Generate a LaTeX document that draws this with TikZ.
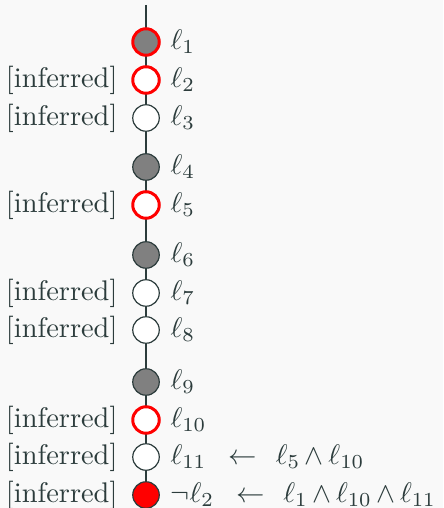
\documentclass[tikz,border=0pt]{standalone}
\definecolor{ink}{RGB}{44,60,60}
\definecolor{bg}{RGB}{249,249,249}
\definecolor{dot}{RGB}{128,128,128}
\definecolor{hot}{RGB}{255,0,0}
\newcommand{\implby}{\kern4.95pt\leftarrow\kern3.9pt}
\begin{document}
\begin{tikzpicture}[x=0.35211pt,y=-0.35211pt,
  every node/.style={text=ink},
  lit/.style={circle,inner sep=0pt,minimum size=9.33pt,draw=ink,line width=0.42pt},
  decided/.style={lit,fill=dot},
  free/.style={lit,fill=white},
  redring/.style={draw=hot,line width=1.05pt},
  conflict/.style={lit,fill=hot},
  lab/.style={anchor=base west,inner sep=0pt,yshift=-2.5pt,
    execute at begin node={\medmuskip=2.9mu}},
  inf/.style={anchor=base east,inner sep=0pt,yshift=-2.5pt}]
\fill[bg] (0,0) rectangle (443,508);
\useasboundingbox (0,0) rectangle (443,508);
\coordinate (top) at (146,5);
\coordinate (bot) at (146,508);
\draw[ink,line width=0.45pt] (top) -- (bot);
% circles
\node[decided,redring] (c1) at (146,42) {};
\node[free,redring] (c2) at (146,80) {};
\node[free] (c3) at (146,118) {};
\node[decided] (c4) at (146,167) {};
\node[free,redring] (c5) at (146,205) {};
\node[decided] (c6) at (146,255) {};
\node[free] (c7) at (146,293) {};
\node[free] (c8) at (146,330) {};
\node[decided] (c9) at (146,382) {};
\node[free,redring] (c10) at (146,420) {};
\node[free] (c11) at (146,457) {};
\node[conflict] (c12) at (146,495) {};
% right labels
\node[lab] (r1) at (170,42) {$\ell_1$};
\node[lab] (r2) at (170,80) {$\ell_2$};
\node[lab] (r3) at (170,118) {$\ell_3$};
\node[lab] (r4) at (170,167) {$\ell_4$};
\node[lab] (r5) at (170,205) {$\ell_5$};
\node[lab] (r6) at (170,255) {$\ell_6$};
\node[lab] (r7) at (170,293) {$\ell_7$};
\node[lab] (r8) at (170,330) {$\ell_8$};
\node[lab] (r9) at (170,382) {$\ell_9$};
\node[lab] (r10) at (170,420) {$\ell_{10}$};
\node[lab] (r11) at (170,457) {$\ell_{11}\implby\ell_5\wedge\ell_{10}$};
\node[lab] (r12) at (170,495) {$\neg\ell_2\implby\ell_1\wedge\ell_{10}\wedge\ell_{11}$};
% left labels
\foreach \y/\n in {80/2,118/3,205/5,293/7,330/8,420/10,457/11,495/12}
  \node[inf] (l\n) at (118,\y) {[inferred]};
\end{tikzpicture}
\end{document}
